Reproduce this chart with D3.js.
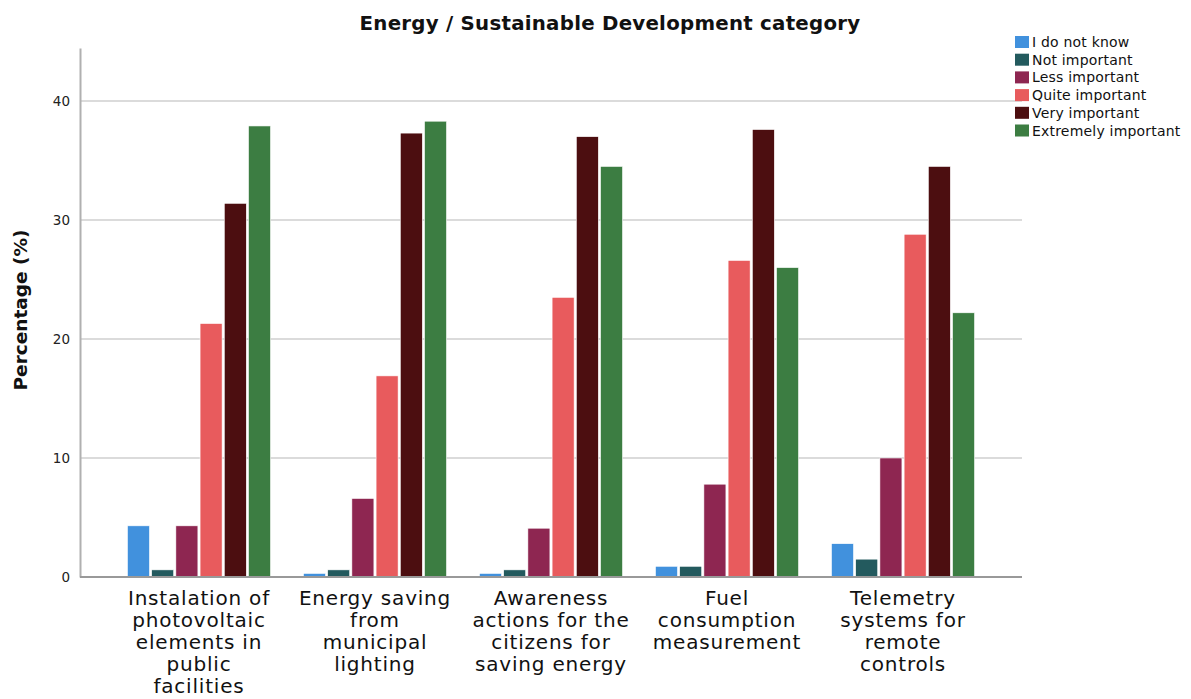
<!DOCTYPE html>
<html><head><meta charset="utf-8">
<script src="https://cdn.jsdelivr.net/npm/d3@7"></script>
<style>body{margin:0;background:#fff}svg{display:block}</style>
</head><body>
<script>
const categories = [
  ["Instalation of","photovoltaic","elements in","public","facilities"],
  ["Energy saving","from","municipal","lighting"],
  ["Awareness","actions for the","citizens for","saving energy"],
  ["Fuel","consumption","measurement"],
  ["Telemetry","systems for","remote","controls"]
];
const seriesNames = ["I do not know","Not important","Less important","Quite important","Very important","Extremely important"];
const colors = ["#4191dd","#235a5e","#8e2651","#e85b5d","#4c0e10","#3c7d42"];
const dontKnow   = [4.3, 0.3, 0.3, 0.9, 2.8];
const notImp     = [0.6, 0.6, 0.6, 0.9, 1.5];
const lessImp    = [4.3, 6.6, 4.1, 7.8, 10.0];
const quiteImp   = [21.3, 16.9, 23.5, 26.6, 28.8];
const veryImp    = [31.4, 37.3, 37.0, 37.6, 34.5];
const extremeImp = [37.9, 38.3, 34.5, 26.0, 22.2];
const yTicks = [0, 10, 20, 30, 40];
const series = [dontKnow, notImp, lessImp, quiteImp, veryImp, extremeImp];

const W = 1191, H = 699;
const pLeft = 80, pRight = 1022, pTop = 48, pBottom = 577;
const FONT = "'DejaVu Sans', Verdana, sans-serif";
const svg = d3.select("body").append("svg").attr("width", W).attr("height", H)
  .style("font-family", FONT);

const y = d3.scaleLinear().domain([0, 44.45]).range([pBottom, pTop]);
const x0 = d3.scaleBand().domain(d3.range(categories.length)).range([pLeft, pRight]).paddingInner(0).paddingOuter(0.176);
const x1 = d3.scaleBand().domain(d3.range(series.length)).range([0, x0.bandwidth()]).paddingInner(0.09).paddingOuter(0.68);

// gridlines
svg.append("g").selectAll("line").data(yTicks.filter(d => d > 0)).join("line")
  .attr("x1", pLeft).attr("x2", pRight).attr("y1", d => y(d)).attr("y2", d => y(d))
  .attr("stroke", "#cfcfcf").attr("stroke-width", 1.5);

// y axis
const yAxis = svg.append("g").attr("transform", `translate(${pLeft},0)`)
  .call(d3.axisLeft(y).tickValues(yTicks).tickSize(0).tickPadding(10));
yAxis.select(".domain").attr("stroke", "#b0b0b0").attr("stroke-width", 2);
yAxis.selectAll("text").attr("font-size", 13.5).attr("fill", "#222").style("font-family", FONT);

// bars
const groups = svg.append("g").selectAll("g").data(categories).join("g")
  .attr("transform", (d, i) => `translate(${x0(i)},0)`);
groups.selectAll("rect").data((d, i) => series.map((s, j) => ({ j, v: s[i] }))).join("rect")
  .attr("x", d => x1(d.j)).attr("width", x1.bandwidth())
  .attr("y", d => y(d.v)).attr("height", d => y(0) - y(d.v))
  .attr("fill", d => colors[d.j]).attr("stroke", "#fff").attr("stroke-width", 0.6);

// x axis line
svg.append("line").attr("x1", pLeft).attr("x2", pRight).attr("y1", pBottom).attr("y2", pBottom)
  .attr("stroke", "#999").attr("stroke-width", 2);

// x labels
const xl = svg.append("g").selectAll("text").data(categories).join("text")
  .attr("text-anchor", "middle").attr("font-size", 20).attr("letter-spacing", 0.8).attr("fill", "#111");
xl.each(function(lines, i) {
  const t = d3.select(this);
  lines.forEach((ln, k) => {
    t.append("tspan").attr("x", x0(i) + x0.bandwidth() / 2).attr("y", 605 + k * 22).text(ln);
  });
});

// title
svg.append("text").attr("x", 610).attr("y", 30).attr("text-anchor", "middle")
  .attr("font-size", 19.8).attr("letter-spacing", 0.25).attr("font-weight", "bold").attr("fill", "#111")
  .text("Energy / Sustainable Development category");

// y label
svg.append("text").attr("transform", `translate(27,310) rotate(-90)`)
  .attr("text-anchor", "middle").attr("font-size", 18.5).attr("font-weight", "bold").attr("fill", "#111")
  .text("Percentage (%)");

// legend
const lg = svg.append("g").attr("transform", "translate(1015,36)");
const items = lg.selectAll("g").data(seriesNames).join("g")
  .attr("transform", (d, i) => `translate(0,${i * 17.7})`);
items.append("rect").attr("width", 14).attr("height", 12).attr("fill", (d, i) => colors[i]);
items.append("text").attr("x", 17).attr("y", 11).attr("font-size", 14).attr("letter-spacing", 0.2).attr("fill", "#111").text(d => d);
</script>
</body></html>
